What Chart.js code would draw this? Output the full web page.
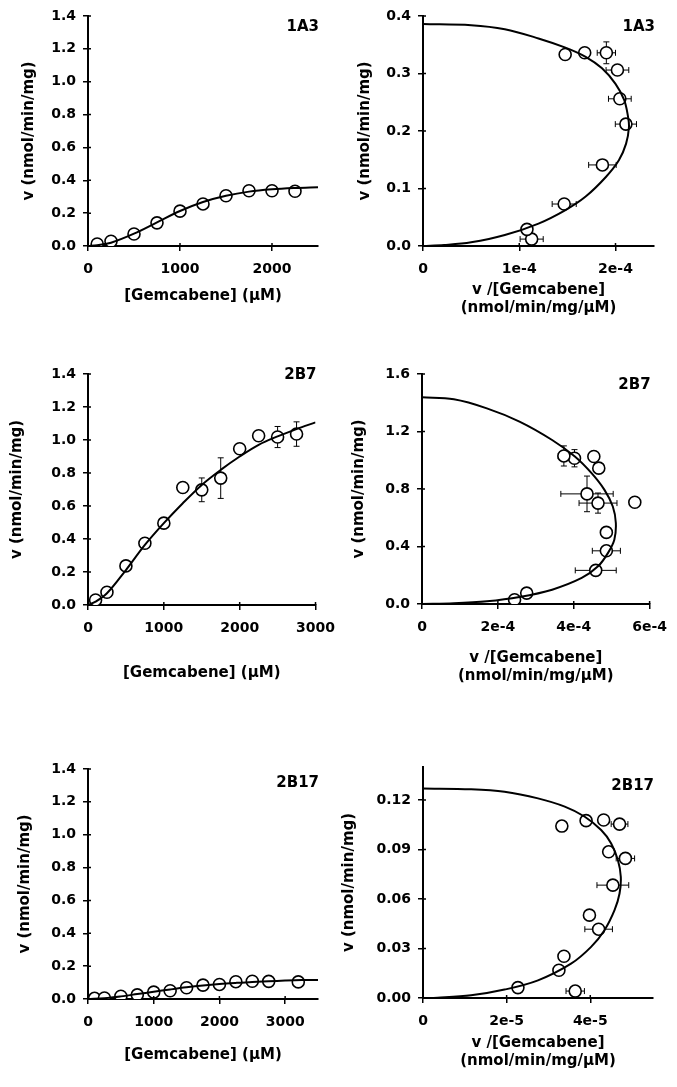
<!DOCTYPE html>
<html>
<head>
<meta charset="utf-8">
<script src="https://cdn.jsdelivr.net/npm/chart.js@4.4.1/dist/chart.umd.min.js"></script>
<style>
html,body{margin:0;padding:0;background:#fff;}
body{width:677px;height:1087px;position:relative;overflow:hidden;}
canvas{position:absolute;}
</style>
</head>
<body>
<canvas id="c1"></canvas>
<canvas id="c2"></canvas>
<canvas id="c3"></canvas>
<canvas id="c4"></canvas>
<canvas id="c5"></canvas>
<canvas id="c6"></canvas>
<script>
// ================= DATA =================
// --- 1A3 : Michaelis-Menten style plot ---
const conc1A3 = [100, 250, 500, 750, 1000, 1250, 1500, 1750, 2000, 2250];
const v1A3    = [0.012, 0.029, 0.073, 0.141, 0.212, 0.256, 0.306, 0.336, 0.336, 0.333];
const fitConc1A3 = [0, 100, 250, 500, 750, 1000, 1250, 1500, 1750, 2000, 2250, 2500];
const fitV1A3    = [0, 0.005, 0.020, 0.075, 0.144, 0.213, 0.268, 0.306, 0.331, 0.345, 0.353, 0.358];
// --- 1A3 : Eadie-Hofstee plot ---
const ehX1A3    = [1.129e-4, 1.08e-4, 1.467e-4, 1.864e-4, 2.108e-4, 2.045e-4, 2.02e-4, 1.905e-4, 1.68e-4, 1.477e-4];
const ehV1A3    = [0.012, 0.029, 0.073, 0.141, 0.212, 0.256, 0.306, 0.336, 0.336, 0.333];
const ehXErr1A3 = [0.12e-4, 0, 0.125e-4, 0.143e-4, 0.11e-4, 0.118e-4, 0.118e-4, 0.095e-4, 0, 0];
const ehVErr1A3 = [0, 0, 0, 0, 0, 0, 0, 0.019, 0, 0];
const ehFitX1A3 = [0, 0.5e-4, 0.85e-4, 1.2e-4, 1.48e-4, 1.69e-4, 1.86e-4, 2.0e-4, 2.09e-4, 2.13e-4, 2.14e-4, 2.11e-4, 2.035e-4, 1.9e-4, 1.69e-4, 1.48e-4, 1.2e-4, 0.85e-4, 0.5e-4, 0.22e-4, 0];
const ehFitV1A3 = [0.386, 0.384, 0.377, 0.361, 0.345, 0.329, 0.309, 0.282, 0.254, 0.225, 0.207, 0.178, 0.149, 0.120, 0.086, 0.0625, 0.039, 0.019, 0.0064, 0.0017, 0];

// --- 2B7 : Michaelis-Menten style plot ---
const conc2B7 = [100, 250, 500, 750, 1000, 1250, 1500, 1750, 2000, 2250, 2500, 2750];
const v2B7    = [0.030, 0.077, 0.237, 0.374, 0.496, 0.712, 0.698, 0.769, 0.947, 1.026, 1.018, 1.036];
const vErr2B7 = [0, 0, 0, 0, 0, 0, 0.072, 0.123, 0, 0, 0.064, 0.074];
const fitConc2B7 = [0, 100, 250, 500, 750, 1000, 1250, 1500, 1750, 2000, 2250, 2500, 2750, 3000];
const fitV2B7    = [0, 0.020, 0.071, 0.212, 0.364, 0.496, 0.617, 0.728, 0.819, 0.900, 0.971, 1.022, 1.066, 1.107];
// --- 2B7 : Eadie-Hofstee plot ---
const ehX2B7    = [2.44e-4, 2.76e-4, 4.58e-4, 4.86e-4, 4.86e-4, 5.61e-4, 4.64e-4, 4.35e-4, 4.66e-4, 4.53e-4, 4.02e-4, 3.74e-4];
const ehV2B7    = [0.030, 0.076, 0.234, 0.370, 0.498, 0.708, 0.702, 0.766, 0.945, 1.026, 1.014, 1.030];
const ehXErr2B7 = [0, 0, 0.54e-4, 0.37e-4, 0, 0, 0.5e-4, 0.69e-4, 0, 0, 0, 0.15e-4];
const ehVErr2B7 = [0, 0, 0, 0, 0, 0, 0.07, 0.124, 0, 0, 0.06, 0.07];
const ehFitX2B7 = [0, 0.84e-4, 1.71e-4, 2.57e-4, 3.43e-4, 4.03e-4, 4.47e-4, 4.81e-4, 5.03e-4, 5.11e-4, 5.07e-4, 4.90e-4, 4.64e-4, 4.21e-4, 3.43e-4, 2.57e-4, 1.71e-4, 0.84e-4, 0];
const ehFitV2B7 = [1.438, 1.424, 1.361, 1.269, 1.141, 1.026, 0.910, 0.794, 0.678, 0.563, 0.447, 0.354, 0.262, 0.181, 0.0996, 0.0486, 0.0185, 0.0046, 0];

// --- 2B17 : Michaelis-Menten style plot ---
const conc2B17 = [100, 250, 500, 750, 1000, 1250, 1500, 1750, 2000, 2250, 2500, 2750, 3200];
const v2B17    = [0.0042, 0.0063, 0.0168, 0.0253, 0.0417, 0.0502, 0.0684, 0.0846, 0.0886, 0.1054, 0.1079, 0.1075, 0.1042];
const fitConc2B17 = [0, 250, 500, 750, 1000, 1250, 1500, 1750, 2000, 2250, 2500, 2750, 3000, 3250, 3500];
const fitV2B17    = [0, 0.005, 0.016, 0.030, 0.044, 0.058, 0.071, 0.082, 0.091, 0.098, 0.104, 0.108, 0.112, 0.115, 0.116];
// --- 2B17 : Eadie-Hofstee plot ---
const ehX2B17    = [3.64e-5, 2.27e-5, 3.25e-5, 3.37e-5, 4.20e-5, 3.98e-5, 4.54e-5, 4.84e-5, 4.44e-5, 4.70e-5, 4.32e-5, 3.90e-5, 3.32e-5];
const ehV2B17    = [0.0042, 0.0063, 0.0168, 0.0253, 0.0417, 0.0502, 0.0684, 0.0846, 0.0886, 0.1054, 0.1079, 0.1075, 0.1042];
const ehXErr2B17 = [0.22e-5, 0, 0, 0, 0.33e-5, 0, 0.38e-5, 0.22e-5, 0, 0.2e-5, 0, 0, 0];
const ehFitX2B17 = [0, 1.15e-5, 1.95e-5, 2.75e-5, 3.39e-5, 3.86e-5, 4.26e-5, 4.50e-5, 4.66e-5, 4.73e-5, 4.70e-5, 4.58e-5, 4.34e-5, 4.02e-5, 3.54e-5, 2.75e-5, 1.95e-5, 1.15e-5, 0.35e-5, 0];
const ehFitV2B17 = [0.127, 0.1265, 0.125, 0.121, 0.116, 0.110, 0.1018, 0.0937, 0.0836, 0.0735, 0.0633, 0.0532, 0.0411, 0.031, 0.0208, 0.0107, 0.0051, 0.0016, 0.0002, 0];

// --- tick values and labels ---
const ticksV14     = [0, 0.2, 0.4, 0.6, 0.8, 1.0, 1.2, 1.4];
const labelsV14    = ['0.0', '0.2', '0.4', '0.6', '0.8', '1.0', '1.2', '1.4'];
const ticksV04     = [0, 0.1, 0.2, 0.3, 0.4];
const labelsV04    = ['0.0', '0.1', '0.2', '0.3', '0.4'];
const ticksV16     = [0, 0.4, 0.8, 1.2, 1.6];
const labelsV16    = ['0.0', '0.4', '0.8', '1.2', '1.6'];
const ticksV012    = [0, 0.03, 0.06, 0.09, 0.12];
const labelsV012   = ['0.00', '0.03', '0.06', '0.09', '0.12'];
const ticksC2000   = [0, 1000, 2000];
const labelsC2000  = ['0', '1000', '2000'];
const ticksC3000   = [0, 1000, 2000, 3000];
const labelsC3000  = ['0', '1000', '2000', '3000'];
const ticksEH1A3   = [0, 1e-4, 2e-4];
const labelsEH1A3  = ['0', '1e-4', '2e-4'];
const ticksEH2B7   = [0, 2e-4, 4e-4, 6e-4];
const labelsEH2B7  = ['0', '2e-4', '4e-4', '6e-4'];
const ticksEH2B17  = [0, 2e-5, 4e-5];
const labelsEH2B17 = ['0', '2e-5', '4e-5'];

const titleV  = 'v (nmol/min/mg)';
const titleC  = '[Gemcabene] (µM)';
const titleEH = ['v /[Gemcabene]', '(nmol/min/mg/µM)'];

// ================= HELPERS =================
const FONT = '"DejaVu Sans", Verdana, sans-serif';
Chart.defaults.font.family = FONT;
Chart.defaults.font.weight = 'bold';
Chart.defaults.color = '#000';

function pts(xs, ys) { return xs.map((x, i) => ({x: x, y: ys[i]})); }

const errorBars = {
  id: 'errorBars',
  beforeDatasetsDraw(chart) {
    const ctx = chart.ctx, xs = chart.scales.x, ys = chart.scales.y;
    const cap = 3;
    chart.data.datasets.forEach(ds => {
      if (!ds.errX && !ds.errY) return;
      ctx.save();
      ctx.strokeStyle = '#000';
      ctx.lineWidth = 1;
      ds.data.forEach((p, i) => {
        const px = xs.getPixelForValue(p.x), py = ys.getPixelForValue(p.y);
        const ex = ds.errX ? ds.errX[i] : 0, ey = ds.errY ? ds.errY[i] : 0;
        ctx.beginPath();
        if (ex) {
          const x1 = xs.getPixelForValue(p.x - ex), x2 = xs.getPixelForValue(p.x + ex);
          ctx.moveTo(x1, py); ctx.lineTo(x2, py);
          ctx.moveTo(x1, py - cap); ctx.lineTo(x1, py + cap);
          ctx.moveTo(x2, py - cap); ctx.lineTo(x2, py + cap);
        }
        if (ey) {
          const y1 = ys.getPixelForValue(p.y - ey), y2 = ys.getPixelForValue(p.y + ey);
          ctx.moveTo(px, y1); ctx.lineTo(px, y2);
          ctx.moveTo(px - cap, y1); ctx.lineTo(px + cap, y1);
          ctx.moveTo(px - cap, y2); ctx.lineTo(px + cap, y2);
        }
        ctx.stroke();
      });
      ctx.restore();
    });
  }
};

const innerTicks = {
  id: 'innerTicks',
  afterDraw(chart) {
    const ctx = chart.ctx, xs = chart.scales.x, ys = chart.scales.y, a = chart.chartArea;
    ctx.save();
    ctx.strokeStyle = '#000';
    ctx.lineWidth = 1.5;
    ctx.beginPath();
    xs.ticks.forEach(t => { const px = xs.getPixelForValue(t.value); ctx.moveTo(px, a.bottom); ctx.lineTo(px, a.bottom - 3); });
    ys.ticks.forEach(t => { const py = ys.getPixelForValue(t.value); ctx.moveTo(a.left, py); ctx.lineTo(a.left + 3, py); });
    ctx.stroke();
    ctx.restore();
  }
};

const panelLabel = {
  id: 'panelLabel',
  afterDraw(chart, args, opts) {
    const ctx = chart.ctx, a = chart.chartArea;
    ctx.save();
    ctx.font = 'bold 15px ' + FONT;
    ctx.fillStyle = '#000';
    ctx.textAlign = 'right';
    ctx.textBaseline = 'middle';
    ctx.fillText(opts.text, a.right + 1, a.top + opts.dy);
    ctx.restore();
  }
};

function makePanel(id, s) {
  const cv = document.getElementById(id);
  cv.width = s.box.w; cv.height = s.box.h;
  cv.style.left = s.box.x + 'px'; cv.style.top = s.box.y + 'px';
  cv.style.width = s.box.w + 'px'; cv.style.height = s.box.h + 'px';
  const p = s.plot;
  const yW = p.l - s.box.x;
  const xH = s.box.y + s.box.h - p.b;
  new Chart(cv, {
    type: 'scatter',
    data: {
      datasets: [
        { data: s.curve, showLine: true, pointRadius: 0, pointHoverRadius: 0,
          borderColor: '#000', borderWidth: 2, tension: 0.35, fill: false },
        { data: s.points, pointRadius: 6, pointHoverRadius: 6, pointBorderWidth: 1.6,
          pointBackgroundColor: '#fff', pointBorderColor: '#000', borderColor: '#000',
          backgroundColor: '#fff', errX: s.errX, errY: s.errY }
      ]
    },
    options: {
      responsive: false, animation: false, events: [],
      layout: { padding: { left: 0, top: p.t - s.box.y, right: s.box.x + s.box.w - p.r, bottom: 0 } },
      plugins: { legend: { display: false }, tooltip: { enabled: false },
                 panelLabel: { text: s.label, dy: s.labelDy } },
      scales: {
        x: {
          type: 'linear', min: s.xMin, max: s.xMax,
          afterFit: sc => { sc.height = xH; },
          afterBuildTicks: sc => { sc.ticks = s.xTicks.map(v => ({value: v})); },
          ticks: { callback: (v, i) => s.xLabels[i], padding: 10, autoSkip: false, maxRotation: 0,
                   font: { size: 14, weight: 'bold' }, color: '#000' },
          grid: { drawOnChartArea: false, drawTicks: true, tickLength: 5, color: '#000', lineWidth: 1.5 },
          border: { color: '#000', width: 2 },
          title: { display: true, text: s.xTitle, color: '#000', font: { size: 15, weight: 'bold' },
                   padding: { top: 0, bottom: s.xTitlePad } }
        },
        y: {
          type: 'linear', min: s.yMin, max: s.yMax,
          afterFit: sc => { sc.width = yW; },
          afterBuildTicks: sc => { sc.ticks = s.yTicks.map(v => ({value: v})); },
          ticks: { callback: (v, i) => s.yLabels[i], padding: 7, autoSkip: false,
                   font: { size: 14, weight: 'bold' }, color: '#000' },
          grid: { drawOnChartArea: false, drawTicks: true, tickLength: 5, color: '#000', lineWidth: 1.5 },
          border: { color: '#000', width: 2 },
          title: { display: true, text: titleV, color: '#000', font: { size: 15, weight: 'bold' },
                   padding: { top: s.yTitlePad, bottom: 0 } }
        }
      }
    },
    plugins: [errorBars, innerTicks, panelLabel]
  });
}

// ================= PANELS =================
makePanel('c1', {
  box: {x: 0, y: 0, w: 345, h: 330}, plot: {l: 88, t: 16, r: 318, b: 246},
  points: pts(conc1A3, v1A3), curve: pts(fitConc1A3, fitV1A3),
  xMin: 0, xMax: 2500, yMin: 0, yMax: 1.4,
  xTicks: ticksC2000, xLabels: labelsC2000, yTicks: ticksV14, yLabels: labelsV14,
  xTitle: titleC, xTitlePad: 25, yTitlePad: 20, label: '1A3', labelDy: 11
});
makePanel('c2', {
  box: {x: 338, y: 0, w: 339, h: 330}, plot: {l: 423, t: 16, r: 654, b: 246},
  points: pts(ehX1A3, ehV1A3), curve: pts(ehFitX1A3, ehFitV1A3), errX: ehXErr1A3, errY: ehVErr1A3,
  xMin: 0, xMax: 2.4e-4, yMin: 0, yMax: 0.4,
  xTicks: ticksEH1A3, xLabels: labelsEH1A3, yTicks: ticksV04, yLabels: labelsV04,
  xTitle: titleEH, xTitlePad: 13, yTitlePad: 18, label: '1A3', labelDy: 11
});
makePanel('c3', {
  box: {x: 0, y: 330, w: 345, h: 370}, plot: {l: 88, t: 374, r: 318, b: 605},
  points: pts(conc2B7, v2B7), curve: pts(fitConc2B7, fitV2B7), errY: vErr2B7,
  xMin: 0, xMax: 3000, yMin: 0, yMax: 1.4,
  xTicks: ticksC3000, xLabels: labelsC3000, yTicks: ticksV14, yLabels: labelsV14,
  xTitle: titleC, xTitlePad: 18, yTitlePad: 8.5, label: '2B7', labelDy: 1
});
makePanel('c4', {
  box: {x: 338, y: 330, w: 339, h: 370}, plot: {l: 422, t: 374, r: 653, b: 604},
  points: pts(ehX2B7, ehV2B7), curve: pts(ehFitX2B7, ehFitV2B7), errX: ehXErr2B7, errY: ehVErr2B7,
  xMin: 0, xMax: 6e-4, yMin: 0, yMax: 1.6,
  xTicks: ticksEH2B7, xLabels: labelsEH2B7, yTicks: ticksV16, yLabels: labelsV16,
  xTitle: titleEH, xTitlePad: 15, yTitlePad: 12, label: '2B7', labelDy: 11
});
makePanel('c5', {
  box: {x: 0, y: 740, w: 345, h: 347}, plot: {l: 88, t: 769, r: 318, b: 999},
  points: pts(conc2B17, v2B17), curve: pts(fitConc2B17, fitV2B17),
  xMin: 0, xMax: 3500, yMin: 0, yMax: 1.4,
  xTicks: ticksC3000, xLabels: labelsC3000, yTicks: ticksV14, yLabels: labelsV14,
  xTitle: titleC, xTitlePad: 23, yTitlePad: 16, label: '2B17', labelDy: 14
});
makePanel('c6', {
  box: {x: 338, y: 740, w: 339, h: 347}, plot: {l: 423, t: 767, r: 653, b: 998},
  points: pts(ehX2B17, ehV2B17), curve: pts(ehFitX2B17, ehFitV2B17), errX: ehXErr2B17,
  xMin: 0, xMax: 5.5e-5, yMin: 0, yMax: 0.14,
  xTicks: ticksEH2B17, xLabels: labelsEH2B17, yTicks: ticksV012, yLabels: labelsV012,
  xTitle: titleEH, xTitlePad: 17, yTitlePad: 2, label: '2B17', labelDy: 19
});
</script>
</body>
</html>
